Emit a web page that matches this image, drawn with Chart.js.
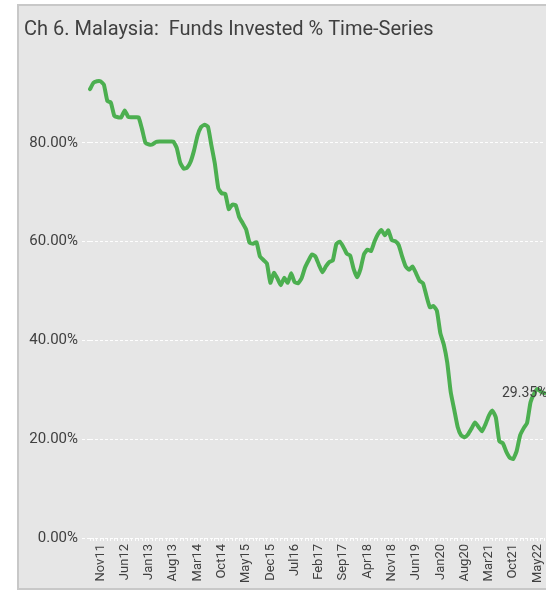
<!DOCTYPE html>
<html>
<head>
<meta charset="utf-8">
<script src="https://cdn.jsdelivr.net/npm/chart.js@4.4.1/dist/chart.umd.min.js"></script>
<style>
  html, body { margin: 0; padding: 0; background: #fff; overflow: hidden; }
  #frame {
    position: absolute; left: 17px; top: 4px; width: 600px; height: 582px;
    border: 2px solid #c8c8c8; background: #e6e6e6;
  }
  #wrap { position: absolute; left: 0; top: 0; width: 544px; height: 580px; }
</style>
</head>
<body>
<div id="frame"><div id="wrap"><canvas id="chart"></canvas></div></div>
<script>
// monthly series, Aug11 .. Jul22
const startYear = 2011;
const startMonth = 7; // Aug
const monthNames = ['Jan', 'Feb', 'Mar', 'Apr', 'May', 'Jun', 'Jul', 'Aug', 'Sep', 'Oct', 'Nov', 'Dec'];

const fundsInvested = [
  90.9, 92.2, 92.5, 92.5, 91.8, 88.5, 88.2, 85.5, 85.2, 85.2,
  86.6, 85.3, 85.2, 85.2, 85.2, 82.8, 80.0, 79.7, 79.7, 80.2,
  80.3, 80.3, 80.3, 80.3, 80.3, 79.0, 76.0, 74.8, 75.0, 76.2,
  78.5, 81.5, 83.2, 83.7, 83.3, 79.5, 75.8, 70.8, 69.8, 69.7,
  66.6, 67.5, 67.4, 65.0, 63.8, 62.5, 59.8, 59.6, 59.9, 57.0,
  56.3, 55.6, 51.7, 53.7, 52.6, 51.2, 52.7, 51.7, 53.6, 51.8,
  51.6, 52.6, 54.8, 56.2, 57.4, 57.0, 55.3, 53.8, 55.0, 55.9,
  56.2, 59.5, 60.0, 59.0, 57.6, 57.2, 54.5, 52.8, 54.5, 57.5,
  58.4, 58.1, 60.0, 61.5, 62.4, 61.3, 62.3, 60.3, 60.1, 59.3,
  57.0, 55.0, 54.3, 55.0, 53.6, 52.1, 51.6, 49.0, 46.7, 47.0,
  46.0, 41.5, 39.2, 35.5, 29.5, 26.0, 22.5, 20.8, 20.4, 21.0,
  22.2, 23.4, 22.5, 21.6, 23.0, 24.8, 25.8, 24.4, 19.6, 19.2,
  17.5, 16.3, 16.0, 17.6, 20.8, 22.2, 23.3, 27.5, 29.2, 30.2,
  29.6, 29.35
];

const tickLabels = ['Nov11', 'Jun12', 'Jan13', 'Aug13', 'Mar14', 'Oct14', 'May15', 'Dec15',
  'Jul16', 'Feb17', 'Sep17', 'Apr18', 'Nov18', 'Jun19', 'Jan20', 'Aug20', 'Mar21', 'Oct21', 'May22'];
const yTicks = [0, 20, 40, 60, 80];

const months = [];
for (let i = 0; i < fundsInvested.length; i++) {
  const m = (startMonth + i) % 12;
  const y = startYear + Math.floor((startMonth + i) / 12);
  months.push(monthNames[m] + String(y).slice(2));
}

const textColor = '#404040';
const fontFamily = 'Roboto, "Noto Sans", sans-serif';

// label on the last point
const lastLabel = {
  id: 'lastLabel',
  afterDatasetsDraw(chart) {
    const meta = chart.getDatasetMeta(0);
    const pt = meta.data[meta.data.length - 1];
    const v = fundsInvested[fundsInvested.length - 1];
    const ctx = chart.ctx;
    ctx.save();
    ctx.font = '14px ' + fontFamily;
    ctx.fillStyle = textColor;
    ctx.textAlign = 'right';
    ctx.textBaseline = 'middle';
    ctx.fillText(v.toFixed(2) + '%', pt.x + 3, pt.y);
    ctx.restore();
  }
};

new Chart(document.getElementById('chart'), {
  type: 'line',
  data: {
    labels: months,
    datasets: [{
      data: fundsInvested,
      borderColor: '#4caf50',
      borderWidth: 4,
      borderJoinStyle: 'round',
      borderCapStyle: 'round',
      pointRadius: 0,
      tension: 0.15,
      fill: false
    }]
  },
  options: {
    responsive: true,
    maintainAspectRatio: false,
    animation: false,
    layout: { padding: { left: 5, right: 2, top: 0, bottom: 0 } },
    plugins: {
      legend: { display: false },
      tooltip: { enabled: false },
      title: {
        display: true,
        text: 'Ch 6. Malaysia:  Funds Invested % Time-Series',
        align: 'start',
        color: textColor,
        font: { family: fontFamily, size: 20, weight: 'normal' },
        padding: { top: 12, bottom: 19 }
      }
    },
    scales: {
      x: {
        offset: false,
        grid: {
          display: true,
          drawOnChartArea: false,
          tickLength: 3,
          tickColor: 'rgba(255,255,255,0.9)'
        },
        border: { display: false },
        ticks: {
          autoSkip: false,
          minRotation: 90,
          maxRotation: 90,
          padding: 3,
          color: textColor,
          font: { family: fontFamily, size: 13 },
          callback: function (value) {
            const lab = this.getLabelForValue(value);
            return tickLabels.includes(lab) ? lab : '';
          }
        },
        afterFit: (scale) => { scale.height = 48; }
      },
      y: {
        min: 0,
        max: 96.6,
        afterBuildTicks: (scale) => { scale.ticks = yTicks.map(v => ({ value: v })); },
        afterFit: (scale) => { scale.width = 66; },
        grid: {
          color: 'rgba(255,255,255,0.95)',
          lineWidth: 1,
          tickLength: 8,
          tickColor: 'rgba(255,255,255,0.95)',
          tickBorderDash: [3, 2]
        },
        border: { display: false, dash: [3, 2] },
        ticks: {
          padding: 4,
          color: textColor,
          font: { family: fontFamily, size: 15 },
          callback: (v) => v.toFixed(2) + '%'
        }
      }
    }
  },
  plugins: [lastLabel]
});
</script>
</body>
</html>
